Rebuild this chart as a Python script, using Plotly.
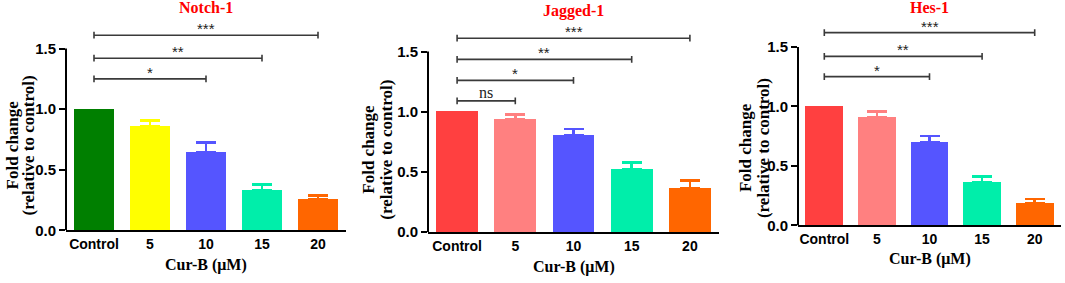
import plotly.graph_objects as go

categories = ["Control", "5", "10", "15", "20"]
titles = ["Notch-1", "Jagged-1", "Hes-1"]
x_title = "Cur-B (μM)"
y_title_lines = ["Fold change", "(relative to control)"]

notch_vals = [1.0, 0.86, 0.647, 0.334, 0.255]
notch_err = [0.0, 0.045, 0.077, 0.043, 0.032]
jagged_vals = [1.0, 0.938, 0.804, 0.524, 0.368]
jagged_err = [0.0, 0.040, 0.051, 0.054, 0.062]
hes_vals = [1.0, 0.907, 0.697, 0.366, 0.189]
hes_err = [0.0, 0.049, 0.054, 0.044, 0.035]

notch_colors = ["#007F00", "#FFFF00", "#5555FF", "#00EEAA", "#FF6600"]
red_colors = ["#FF4040", "#FF8080", "#5555FF", "#00EEAA", "#FF6600"]

# significance brackets: (target category, label, height)
notch_sig = [("10", "*", 1.25), ("15", "**", 1.42), ("20", "***", 1.61)]
jagged_sig = [("5", "ns", 1.09), ("10", "*", 1.26), ("15", "**", 1.435), ("20", "***", 1.61)]
hes_sig = [("10", "*", 1.25), ("15", "**", 1.42), ("20", "***", 1.62)]

panels = [
    (notch_vals, notch_err, notch_colors, notch_sig),
    (jagged_vals, jagged_err, red_colors, jagged_sig),
    (hes_vals, hes_err, red_colors, hes_sig),
]

W, H = 1065, 283
x_domains = [(66, 346), (428, 719), (798, 1061)]
# (pixel y of value 0, pixels per unit)
y_geo = [(237, 124.7), (239, 124.0), (232, 122.5)]
title_y = [8, 11, 8]
xtitle_y = [273, 275, 267]
ytitle_shift = [(-54, -38), (-59, -41), (-53, -35)]
ytitle_center = [0.70, 0.685, 0.65]
YMAX = 1.7

SERIF = "Liberation Serif, Times New Roman, serif"
SANS = "Liberation Sans, Arial, sans-serif"

fig = go.Figure()
shapes = []
annotations = []

for i, (vals, errs, cols, sigs) in enumerate(panels):
    n = "" if i == 0 else str(i + 1)
    xa, ya = "x" + n, "y" + n
    for c, v, e, col in zip(categories, vals, errs, cols):
        fig.add_trace(go.Bar(
            x=[c], y=[v], xaxis=xa, yaxis=ya, width=0.72,
            marker=dict(color=col, line=dict(width=0)), showlegend=False,
            error_y=dict(type="data", symmetric=False, array=[e], arrayminus=[0],
                         color=col, thickness=2.5, width=10, visible=e > 0),
        ))

    x0p, x1p = x_domains[i]
    y0p, ppu = y_geo[i]
    ybot = (H - y0p) / H
    ytop = (H - (y0p - YMAX * ppu)) / H
    fig.layout["xaxis" + n] = dict(
        domain=[x0p / W, x1p / W], anchor=ya, type="category",
        categoryorder="array", categoryarray=categories,
        range=[-0.5, 4.5], showline=True, linecolor="black", linewidth=2,
        ticks="", showgrid=False, zeroline=False,
        tickfont=dict(family=SANS, size=14, color="black", weight="bold"),
    )
    fig.layout["yaxis" + n] = dict(
        domain=[ybot, ytop], anchor=xa, range=[0, YMAX],
        tickvals=[0, 0.5, 1.0, 1.5], tickformat=".1f",
        ticks="outside", ticklen=6, tickwidth=2, tickcolor="black",
        showline=False, showgrid=False, zeroline=False,
        tickfont=dict(family=SANS, size=15, color="black", weight="bold"),
    )

    # y axis line from 0 to 1.5
    shapes.append(dict(type="line", xref=xa + " domain", yref=ya,
                       x0=0, x1=0, y0=0, y1=1.5,
                       line=dict(color="black", width=2)))

    # significance brackets
    cap = 0.028
    for tgt, lab, h in sigs:
        ci = categories.index(tgt)
        shapes.append(dict(type="line", xref=xa, yref=ya, x0=0, x1=ci,
                           y0=h, y1=h, line=dict(color="#3a3a3a", width=1.6)))
        for xx in (0, ci):
            shapes.append(dict(type="line", xref=xa, yref=ya, x0=xx, x1=xx,
                               y0=h - cap, y1=h + cap,
                               line=dict(color="#3a3a3a", width=1.6)))
        annotations.append(dict(
            xref=xa, yref=ya, x=ci / 2, y=h, text=lab, showarrow=False,
            yanchor="bottom", yshift=-4 if lab != "ns" else -2,
            font=dict(family=SERIF if lab == "ns" else SANS,
                      size=16 if lab == "ns" else 15, color="#222222"),
        ))

    # panel title
    annotations.append(dict(
        xref=xa + " domain", yref="paper", x=0.5, y=1 - title_y[i] / H,
        text=titles[i], showarrow=False, yanchor="middle",
        font=dict(family=SERIF, size=16, color="#FF0000", weight="bold"),
    ))
    # x axis title
    annotations.append(dict(
        xref=xa + " domain", yref="paper", x=0.5, y=1 - xtitle_y[i] / H,
        text=x_title, showarrow=False, yanchor="middle",
        font=dict(family=SERIF, size=16, color="black", weight="bold"),
    ))
    # y axis title (two lines)
    for line_txt, dx in zip(y_title_lines, ytitle_shift[i]):
        annotations.append(dict(
            xref=xa + " domain", yref=ya, x=0, y=ytitle_center[i],
            xshift=dx, text=line_txt, showarrow=False, textangle=-90,
            xanchor="center", yanchor="middle",
            font=dict(family=SERIF, size=17, color="black", weight="bold"),
        ))

fig.update_layout(
    width=W, height=H, margin=dict(l=0, r=0, t=0, b=0),
    plot_bgcolor="white", paper_bgcolor="white",
    barmode="overlay", bargap=0,
    shapes=shapes, annotations=annotations,
)

fig.write_html(
    "out.html",
    config={"displayModeBar": False},
    post_script="document.body.style.margin='0';document.body.style.overflow='hidden';",
)
